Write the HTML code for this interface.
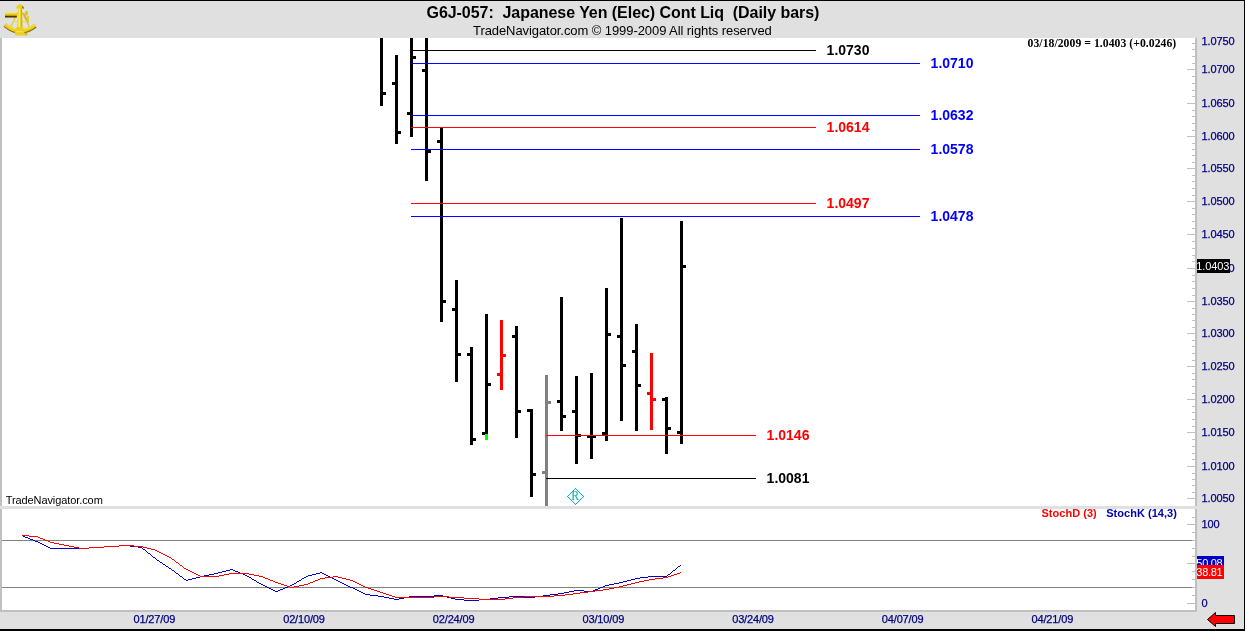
<!DOCTYPE html>
<html><head><meta charset="utf-8"><title>G6J-057 Japanese Yen</title>
<style>
html,body{margin:0;padding:0;background:#fff;}
body{width:1245px;height:631px;overflow:hidden;position:relative;font-family:"Liberation Sans",sans-serif;}
#c{position:absolute;left:0;top:0;width:1245px;height:631px;overflow:hidden;background:#fff;}
#c div,#c span,#c svg{position:absolute;}
.t{white-space:nowrap;line-height:1;}
.ax{color:#000080;font-size:11px;left:1201.5px;letter-spacing:-0.12px;-webkit-text-stroke:0.25px #000080;}
.dt{color:#000080;font-size:11px;top:613.5px;letter-spacing:-0.15px;-webkit-text-stroke:0.25px #000080;}
.lb{font-size:14px;font-weight:bold;}
</style></head><body><div id="c">

<div style="left:0px;top:0px;width:1245px;height:1px;background:#000;"></div>
<div style="left:0px;top:1px;width:1244px;height:37px;background:#e0e0e0;"></div>
<div style="left:0px;top:38px;width:2px;height:574px;background:#c0c0c0;"></div>
<div style="left:1197px;top:38px;width:47px;height:591px;background:#e0e0e0;"></div>
<div style="left:1195px;top:38px;width:2px;height:574px;background:#c0c0c0;"></div>
<div style="left:0px;top:506px;width:1197px;height:3px;background:#e0e0e0;"></div>
<div style="left:0px;top:610px;width:1197px;height:2px;background:#c0c0c0;"></div>
<div style="left:0px;top:612px;width:1244px;height:17px;background:#e0e0e0;"></div>
<div style="left:0px;top:629px;width:1245px;height:2px;background:#000;"></div>
<div style="left:1244px;top:0px;width:1px;height:631px;background:#000;"></div>
<div style="left:1192px;top:43px;width:3px;height:1px;background:#c0c0c0;"></div>
<div style="left:1192px;top:49px;width:3px;height:1px;background:#c0c0c0;"></div>
<div style="left:1192px;top:56px;width:3px;height:1px;background:#c0c0c0;"></div>
<div style="left:1192px;top:63px;width:3px;height:1px;background:#c0c0c0;"></div>
<div style="left:1187px;top:69px;width:8px;height:1px;background:#c0c0c0;"></div>
<div style="left:1192px;top:76px;width:3px;height:1px;background:#c0c0c0;"></div>
<div style="left:1192px;top:83px;width:3px;height:1px;background:#c0c0c0;"></div>
<div style="left:1192px;top:90px;width:3px;height:1px;background:#c0c0c0;"></div>
<div style="left:1192px;top:96px;width:3px;height:1px;background:#c0c0c0;"></div>
<div style="left:1187px;top:103px;width:8px;height:1px;background:#c0c0c0;"></div>
<div style="left:1192px;top:110px;width:3px;height:1px;background:#c0c0c0;"></div>
<div style="left:1192px;top:116px;width:3px;height:1px;background:#c0c0c0;"></div>
<div style="left:1192px;top:123px;width:3px;height:1px;background:#c0c0c0;"></div>
<div style="left:1192px;top:130px;width:3px;height:1px;background:#c0c0c0;"></div>
<div style="left:1187px;top:136px;width:8px;height:1px;background:#c0c0c0;"></div>
<div style="left:1192px;top:143px;width:3px;height:1px;background:#c0c0c0;"></div>
<div style="left:1192px;top:149px;width:3px;height:1px;background:#c0c0c0;"></div>
<div style="left:1192px;top:155px;width:3px;height:1px;background:#c0c0c0;"></div>
<div style="left:1192px;top:162px;width:3px;height:1px;background:#c0c0c0;"></div>
<div style="left:1187px;top:168px;width:8px;height:1px;background:#c0c0c0;"></div>
<div style="left:1192px;top:175px;width:3px;height:1px;background:#c0c0c0;"></div>
<div style="left:1192px;top:181px;width:3px;height:1px;background:#c0c0c0;"></div>
<div style="left:1192px;top:188px;width:3px;height:1px;background:#c0c0c0;"></div>
<div style="left:1192px;top:195px;width:3px;height:1px;background:#c0c0c0;"></div>
<div style="left:1187px;top:201px;width:8px;height:1px;background:#c0c0c0;"></div>
<div style="left:1192px;top:208px;width:3px;height:1px;background:#c0c0c0;"></div>
<div style="left:1192px;top:214px;width:3px;height:1px;background:#c0c0c0;"></div>
<div style="left:1192px;top:221px;width:3px;height:1px;background:#c0c0c0;"></div>
<div style="left:1192px;top:228px;width:3px;height:1px;background:#c0c0c0;"></div>
<div style="left:1187px;top:234px;width:8px;height:1px;background:#c0c0c0;"></div>
<div style="left:1192px;top:241px;width:3px;height:1px;background:#c0c0c0;"></div>
<div style="left:1192px;top:248px;width:3px;height:1px;background:#c0c0c0;"></div>
<div style="left:1192px;top:255px;width:3px;height:1px;background:#c0c0c0;"></div>
<div style="left:1192px;top:261px;width:3px;height:1px;background:#c0c0c0;"></div>
<div style="left:1187px;top:268px;width:8px;height:1px;background:#c0c0c0;"></div>
<div style="left:1192px;top:275px;width:3px;height:1px;background:#c0c0c0;"></div>
<div style="left:1192px;top:281px;width:3px;height:1px;background:#c0c0c0;"></div>
<div style="left:1192px;top:288px;width:3px;height:1px;background:#c0c0c0;"></div>
<div style="left:1192px;top:295px;width:3px;height:1px;background:#c0c0c0;"></div>
<div style="left:1187px;top:301px;width:8px;height:1px;background:#c0c0c0;"></div>
<div style="left:1192px;top:308px;width:3px;height:1px;background:#c0c0c0;"></div>
<div style="left:1192px;top:314px;width:3px;height:1px;background:#c0c0c0;"></div>
<div style="left:1192px;top:320px;width:3px;height:1px;background:#c0c0c0;"></div>
<div style="left:1192px;top:327px;width:3px;height:1px;background:#c0c0c0;"></div>
<div style="left:1187px;top:333px;width:8px;height:1px;background:#c0c0c0;"></div>
<div style="left:1192px;top:340px;width:3px;height:1px;background:#c0c0c0;"></div>
<div style="left:1192px;top:346px;width:3px;height:1px;background:#c0c0c0;"></div>
<div style="left:1192px;top:353px;width:3px;height:1px;background:#c0c0c0;"></div>
<div style="left:1192px;top:360px;width:3px;height:1px;background:#c0c0c0;"></div>
<div style="left:1187px;top:366px;width:8px;height:1px;background:#c0c0c0;"></div>
<div style="left:1192px;top:373px;width:3px;height:1px;background:#c0c0c0;"></div>
<div style="left:1192px;top:379px;width:3px;height:1px;background:#c0c0c0;"></div>
<div style="left:1192px;top:386px;width:3px;height:1px;background:#c0c0c0;"></div>
<div style="left:1192px;top:393px;width:3px;height:1px;background:#c0c0c0;"></div>
<div style="left:1187px;top:399px;width:8px;height:1px;background:#c0c0c0;"></div>
<div style="left:1192px;top:406px;width:3px;height:1px;background:#c0c0c0;"></div>
<div style="left:1192px;top:412px;width:3px;height:1px;background:#c0c0c0;"></div>
<div style="left:1192px;top:419px;width:3px;height:1px;background:#c0c0c0;"></div>
<div style="left:1192px;top:426px;width:3px;height:1px;background:#c0c0c0;"></div>
<div style="left:1187px;top:432px;width:8px;height:1px;background:#c0c0c0;"></div>
<div style="left:1192px;top:439px;width:3px;height:1px;background:#c0c0c0;"></div>
<div style="left:1192px;top:446px;width:3px;height:1px;background:#c0c0c0;"></div>
<div style="left:1192px;top:453px;width:3px;height:1px;background:#c0c0c0;"></div>
<div style="left:1192px;top:459px;width:3px;height:1px;background:#c0c0c0;"></div>
<div style="left:1187px;top:466px;width:8px;height:1px;background:#c0c0c0;"></div>
<div style="left:1192px;top:473px;width:3px;height:1px;background:#c0c0c0;"></div>
<div style="left:1192px;top:479px;width:3px;height:1px;background:#c0c0c0;"></div>
<div style="left:1192px;top:485px;width:3px;height:1px;background:#c0c0c0;"></div>
<div style="left:1192px;top:492px;width:3px;height:1px;background:#c0c0c0;"></div>
<div style="left:1187px;top:498px;width:8px;height:1px;background:#c0c0c0;"></div>
<span class="t ax" style="top:36px">1.0750</span>
<span class="t ax" style="top:64px">1.0700</span>
<span class="t ax" style="top:98px">1.0650</span>
<span class="t ax" style="top:131px">1.0600</span>
<span class="t ax" style="top:163px">1.0550</span>
<span class="t ax" style="top:196px">1.0500</span>
<span class="t ax" style="top:229px">1.0450</span>
<span class="t ax" style="top:263px">1.0400</span>
<span class="t ax" style="top:296px">1.0350</span>
<span class="t ax" style="top:328px">1.0300</span>
<span class="t ax" style="top:361px">1.0250</span>
<span class="t ax" style="top:394px">1.0200</span>
<span class="t ax" style="top:427px">1.0150</span>
<span class="t ax" style="top:461px">1.0100</span>
<span class="t ax" style="top:493px">1.0050</span>
<div style="left:1187px;top:603px;width:8px;height:1px;background:#c0c0c0;"></div>
<div style="left:1192px;top:595px;width:3px;height:1px;background:#c0c0c0;"></div>
<div style="left:1192px;top:587px;width:3px;height:1px;background:#c0c0c0;"></div>
<div style="left:1192px;top:579px;width:3px;height:1px;background:#c0c0c0;"></div>
<div style="left:1192px;top:571px;width:3px;height:1px;background:#c0c0c0;"></div>
<div style="left:1187px;top:563px;width:8px;height:1px;background:#c0c0c0;"></div>
<div style="left:1192px;top:556px;width:3px;height:1px;background:#c0c0c0;"></div>
<div style="left:1192px;top:548px;width:3px;height:1px;background:#c0c0c0;"></div>
<div style="left:1192px;top:540px;width:3px;height:1px;background:#c0c0c0;"></div>
<div style="left:1192px;top:532px;width:3px;height:1px;background:#c0c0c0;"></div>
<div style="left:1187px;top:524px;width:8px;height:1px;background:#c0c0c0;"></div>
<div style="left:1192px;top:517px;width:3px;height:1px;background:#c0c0c0;"></div>
<div style="left:2px;top:540px;width:1190px;height:1px;background:#808080;"></div>
<div style="left:2px;top:587px;width:1190px;height:1px;background:#808080;"></div>
<span class="t ax" style="top:519px">100</span>
<span class="t ax" style="top:598px">0</span>
<div style="left:380px;top:38px;width:3px;height:68px;background:#000;"></div>
<div style="left:383px;top:92px;width:3px;height:3px;background:#000;"></div>
<div style="left:395px;top:55px;width:3px;height:89px;background:#000;"></div>
<div style="left:392px;top:82px;width:3px;height:3px;background:#000;"></div>
<div style="left:398px;top:131px;width:3px;height:3px;background:#000;"></div>
<div style="left:410px;top:38px;width:3px;height:99px;background:#000;"></div>
<div style="left:407px;top:112px;width:3px;height:3px;background:#000;"></div>
<div style="left:413px;top:56px;width:3px;height:3px;background:#000;"></div>
<div style="left:425px;top:38px;width:3px;height:143px;background:#000;"></div>
<div style="left:422px;top:69px;width:3px;height:3px;background:#000;"></div>
<div style="left:428px;top:150px;width:3px;height:3px;background:#000;"></div>
<div style="left:440px;top:127px;width:3px;height:195px;background:#000;"></div>
<div style="left:437px;top:140px;width:3px;height:3px;background:#000;"></div>
<div style="left:443px;top:300px;width:3px;height:3px;background:#000;"></div>
<div style="left:455px;top:280px;width:3px;height:102px;background:#000;"></div>
<div style="left:452px;top:308px;width:3px;height:3px;background:#000;"></div>
<div style="left:458px;top:353px;width:3px;height:3px;background:#000;"></div>
<div style="left:470px;top:347px;width:3px;height:98px;background:#000;"></div>
<div style="left:467px;top:353px;width:3px;height:3px;background:#000;"></div>
<div style="left:473px;top:438px;width:3px;height:3px;background:#000;"></div>
<div style="left:485px;top:314px;width:3px;height:120px;background:#000;"></div>
<div style="left:482px;top:432px;width:3px;height:3px;background:#000;"></div>
<div style="left:488px;top:383px;width:3px;height:3px;background:#000;"></div>
<div style="left:500px;top:320px;width:3px;height:70px;background:#f00;"></div>
<div style="left:497px;top:373px;width:3px;height:3px;background:#f00;"></div>
<div style="left:503px;top:354px;width:3px;height:3px;background:#f00;"></div>
<div style="left:515px;top:326px;width:3px;height:112px;background:#000;"></div>
<div style="left:512px;top:335px;width:3px;height:3px;background:#000;"></div>
<div style="left:518px;top:410px;width:3px;height:3px;background:#000;"></div>
<div style="left:530px;top:409px;width:3px;height:88px;background:#000;"></div>
<div style="left:527px;top:409px;width:3px;height:3px;background:#000;"></div>
<div style="left:533px;top:473px;width:3px;height:3px;background:#000;"></div>
<div style="left:545px;top:375px;width:3px;height:131px;background:#808080;"></div>
<div style="left:542px;top:471px;width:3px;height:3px;background:#808080;"></div>
<div style="left:548px;top:401px;width:3px;height:3px;background:#808080;"></div>
<div style="left:560px;top:297px;width:3px;height:134px;background:#000;"></div>
<div style="left:557px;top:400px;width:3px;height:3px;background:#000;"></div>
<div style="left:563px;top:415px;width:3px;height:3px;background:#000;"></div>
<div style="left:575px;top:376px;width:3px;height:88px;background:#000;"></div>
<div style="left:572px;top:410px;width:3px;height:3px;background:#000;"></div>
<div style="left:578px;top:434px;width:3px;height:3px;background:#000;"></div>
<div style="left:590px;top:373px;width:3px;height:86px;background:#000;"></div>
<div style="left:587px;top:435px;width:3px;height:3px;background:#000;"></div>
<div style="left:593px;top:435px;width:3px;height:3px;background:#000;"></div>
<div style="left:605px;top:288px;width:3px;height:153px;background:#000;"></div>
<div style="left:602px;top:432px;width:3px;height:3px;background:#000;"></div>
<div style="left:608px;top:333px;width:3px;height:3px;background:#000;"></div>
<div style="left:620px;top:218px;width:3px;height:203px;background:#000;"></div>
<div style="left:617px;top:335px;width:3px;height:3px;background:#000;"></div>
<div style="left:623px;top:364px;width:3px;height:3px;background:#000;"></div>
<div style="left:635px;top:324px;width:3px;height:107px;background:#000;"></div>
<div style="left:632px;top:350px;width:3px;height:3px;background:#000;"></div>
<div style="left:638px;top:384px;width:3px;height:3px;background:#000;"></div>
<div style="left:650px;top:353px;width:3px;height:77px;background:#f00;"></div>
<div style="left:647px;top:392px;width:3px;height:3px;background:#f00;"></div>
<div style="left:653px;top:398px;width:3px;height:3px;background:#f00;"></div>
<div style="left:665px;top:397px;width:3px;height:57px;background:#000;"></div>
<div style="left:662px;top:398px;width:3px;height:3px;background:#000;"></div>
<div style="left:668px;top:427px;width:3px;height:3px;background:#000;"></div>
<div style="left:680px;top:221px;width:3px;height:223px;background:#000;"></div>
<div style="left:677px;top:431px;width:3px;height:3px;background:#000;"></div>
<div style="left:683px;top:265px;width:3px;height:3px;background:#000;"></div>
<div style="left:485px;top:434px;width:3px;height:6px;background:#0f0;"></div>
<div style="left:411px;top:50px;width:405px;height:1px;background:#000;"></div>
<span class="t lb" style="left:826.6px;top:42.6px;color:#000">1.0730</span>
<div style="left:411px;top:63px;width:509px;height:1px;background:#00f;"></div>
<span class="t lb" style="left:930.6px;top:55.6px;color:#00f">1.0710</span>
<div style="left:411px;top:115px;width:509px;height:1px;background:#00f;"></div>
<span class="t lb" style="left:930.6px;top:107.6px;color:#00f">1.0632</span>
<div style="left:411px;top:127px;width:405px;height:1px;background:#f00;"></div>
<span class="t lb" style="left:826.6px;top:119.6px;color:#f00">1.0614</span>
<div style="left:411px;top:149px;width:509px;height:1px;background:#00f;"></div>
<span class="t lb" style="left:930.6px;top:141.6px;color:#00f">1.0578</span>
<div style="left:411px;top:203px;width:405px;height:1px;background:#f00;"></div>
<span class="t lb" style="left:826.6px;top:195.6px;color:#f00">1.0497</span>
<div style="left:411px;top:216px;width:509px;height:1px;background:#00f;"></div>
<span class="t lb" style="left:930.6px;top:208.6px;color:#00f">1.0478</span>
<div style="left:546px;top:435px;width:210px;height:1px;background:#f00;"></div>
<span class="t lb" style="left:766.6px;top:427.6px;color:#f00">1.0146</span>
<div style="left:546px;top:478px;width:210px;height:1px;background:#000;"></div>
<span class="t lb" style="left:766.6px;top:470.6px;color:#000">1.0081</span>
<div style="left:1197px;top:259px;width:33px;height:14px;background:#000"></div>
<span class="t" style="left:1196.3px;top:260.6px;font-size:11px;color:#fff;letter-spacing:-0.1px">1.0403</span>
<div style="left:1197px;top:556px;width:27px;height:9px;background:#0000c8;overflow:hidden"><span class="t" style="left:-0.7px;top:1.8px;font-size:11px;color:#fff;letter-spacing:-0.3px">50.08</span></div>
<div style="left:1197px;top:565px;width:27px;height:14px;background:#f00;overflow:hidden"><span class="t" style="left:-0.7px;top:2px;font-size:11px;color:#fff;letter-spacing:-0.3px">38.81</span></div>
<svg style="left:0;top:0" width="1245" height="631" viewBox="0 0 1245 631" shape-rendering="crispEdges"><path d="M22 535h1v1h-1zM23 536h2v1h-2zM25 537h3v1h-3zM28 538h2v1h-2zM30 539h3v1h-3zM33 540h2v1h-2zM35 541h3v1h-3zM38 542h2v1h-2zM40 543h2v1h-2zM42 544h2v1h-2zM44 545h2v1h-2zM119 545h11v1h-11zM46 546h2v1h-2zM104 546h15v1h-15zM130 546h8v1h-8zM48 547h2v1h-2zM89 547h15v1h-15zM138 547h4v1h-4zM50 548h39v1h-39zM142 548h1v1h-1zM143 549h2v1h-2zM145 550h1v1h-1zM146 551h1v1h-1zM147 552h1v1h-1zM148 553h2v1h-2zM150 554h1v1h-1zM151 555h1v1h-1zM152 556h1v1h-1zM153 557h2v1h-2zM155 558h1v1h-1zM156 559h1v1h-1zM157 560h2v1h-2zM159 561h1v1h-1zM160 562h2v1h-2zM162 563h1v1h-1zM163 564h2v1h-2zM165 565h1v1h-1zM680 565h1v1h-1zM166 566h2v1h-2zM678 566h2v1h-2zM168 567h1v1h-1zM677 567h1v1h-1zM169 568h2v1h-2zM676 568h1v1h-1zM171 569h1v1h-1zM230 569h3v1h-3zM675 569h1v1h-1zM172 570h2v1h-2zM226 570h4v1h-4zM233 570h2v1h-2zM673 570h2v1h-2zM174 571h1v1h-1zM222 571h4v1h-4zM235 571h3v1h-3zM672 571h1v1h-1zM175 572h1v1h-1zM218 572h4v1h-4zM238 572h2v1h-2zM320 572h2v1h-2zM671 572h1v1h-1zM176 573h2v1h-2zM214 573h4v1h-4zM240 573h3v1h-3zM316 573h4v1h-4zM322 573h2v1h-2zM670 573h1v1h-1zM178 574h1v1h-1zM209 574h5v1h-5zM243 574h2v1h-2zM312 574h4v1h-4zM324 574h2v1h-2zM668 574h2v1h-2zM179 575h1v1h-1zM204 575h5v1h-5zM245 575h2v1h-2zM308 575h4v1h-4zM326 575h2v1h-2zM667 575h1v1h-1zM180 576h2v1h-2zM200 576h4v1h-4zM247 576h2v1h-2zM306 576h2v1h-2zM328 576h2v1h-2zM648 576h19v1h-19zM182 577h1v1h-1zM196 577h4v1h-4zM249 577h2v1h-2zM304 577h2v1h-2zM330 577h2v1h-2zM640 577h8v1h-8zM183 578h1v1h-1zM192 578h4v1h-4zM251 578h1v1h-1zM302 578h2v1h-2zM332 578h2v1h-2zM635 578h5v1h-5zM184 579h2v1h-2zM188 579h4v1h-4zM252 579h2v1h-2zM301 579h1v1h-1zM334 579h2v1h-2zM631 579h4v1h-4zM186 580h2v1h-2zM254 580h2v1h-2zM299 580h2v1h-2zM336 580h2v1h-2zM627 580h4v1h-4zM256 581h1v1h-1zM297 581h2v1h-2zM338 581h2v1h-2zM623 581h4v1h-4zM257 582h2v1h-2zM296 582h1v1h-1zM340 582h2v1h-2zM619 582h4v1h-4zM259 583h2v1h-2zM294 583h2v1h-2zM342 583h2v1h-2zM614 583h5v1h-5zM261 584h2v1h-2zM292 584h2v1h-2zM344 584h2v1h-2zM609 584h5v1h-5zM263 585h2v1h-2zM290 585h2v1h-2zM346 585h2v1h-2zM605 585h4v1h-4zM265 586h2v1h-2zM288 586h2v1h-2zM348 586h2v1h-2zM603 586h2v1h-2zM267 587h2v1h-2zM285 587h3v1h-3zM350 587h3v1h-3zM600 587h3v1h-3zM269 588h2v1h-2zM283 588h2v1h-2zM353 588h2v1h-2zM598 588h2v1h-2zM271 589h2v1h-2zM280 589h3v1h-3zM355 589h2v1h-2zM595 589h3v1h-3zM273 590h2v1h-2zM278 590h2v1h-2zM357 590h2v1h-2zM574 590h10v1h-10zM593 590h2v1h-2zM275 591h3v1h-3zM359 591h2v1h-2zM569 591h5v1h-5zM584 591h9v1h-9zM361 592h2v1h-2zM564 592h5v1h-5zM363 593h2v1h-2zM558 593h6v1h-6zM365 594h5v1h-5zM550 594h8v1h-8zM370 595h8v1h-8zM434 595h9v1h-9zM543 595h7v1h-7zM378 596h6v1h-6zM409 596h25v1h-25zM443 596h4v1h-4zM509 596h15v1h-15zM535 596h8v1h-8zM384 597h5v1h-5zM404 597h5v1h-5zM447 597h4v1h-4zM498 597h11v1h-11zM524 597h11v1h-11zM389 598h5v1h-5zM399 598h5v1h-5zM451 598h4v1h-4zM490 598h8v1h-8zM394 599h5v1h-5zM455 599h9v1h-9zM479 599h11v1h-11zM464 600h15v1h-15z" fill="#0000c8"/><path d="M22 535h7v1h-7zM29 536h9v1h-9zM38 537h2v1h-2zM40 538h3v1h-3zM43 539h2v1h-2zM45 540h3v1h-3zM48 541h2v1h-2zM50 542h4v1h-4zM54 543h5v1h-5zM59 544h5v1h-5zM64 545h5v1h-5zM119 545h15v1h-15zM69 546h5v1h-5zM104 546h15v1h-15zM134 546h9v1h-9zM74 547h5v1h-5zM89 547h15v1h-15zM143 547h4v1h-4zM79 548h10v1h-10zM147 548h4v1h-4zM151 549h4v1h-4zM155 550h2v1h-2zM157 551h2v1h-2zM159 552h2v1h-2zM161 553h2v1h-2zM163 554h2v1h-2zM165 555h2v1h-2zM167 556h2v1h-2zM169 557h2v1h-2zM171 558h1v1h-1zM172 559h2v1h-2zM174 560h1v1h-1zM175 561h1v1h-1zM176 562h2v1h-2zM178 563h1v1h-1zM179 564h1v1h-1zM180 565h2v1h-2zM182 566h1v1h-1zM183 567h1v1h-1zM184 568h2v1h-2zM186 569h2v1h-2zM188 570h2v1h-2zM190 571h2v1h-2zM192 572h2v1h-2zM680 572h1v1h-1zM194 573h2v1h-2zM229 573h20v1h-20zM677 573h3v1h-3zM196 574h2v1h-2zM224 574h5v1h-5zM249 574h5v1h-5zM674 574h3v1h-3zM198 575h2v1h-2zM219 575h5v1h-5zM254 575h5v1h-5zM671 575h3v1h-3zM200 576h19v1h-19zM259 576h4v1h-4zM333 576h5v1h-5zM668 576h3v1h-3zM263 577h2v1h-2zM325 577h8v1h-8zM338 577h4v1h-4zM663 577h5v1h-5zM265 578h3v1h-3zM320 578h5v1h-5zM342 578h4v1h-4zM655 578h8v1h-8zM268 579h2v1h-2zM318 579h2v1h-2zM346 579h4v1h-4zM649 579h6v1h-6zM270 580h3v1h-3zM315 580h3v1h-3zM350 580h3v1h-3zM644 580h5v1h-5zM273 581h2v1h-2zM313 581h2v1h-2zM353 581h2v1h-2zM639 581h5v1h-5zM275 582h3v1h-3zM310 582h3v1h-3zM355 582h2v1h-2zM635 582h4v1h-4zM278 583h3v1h-3zM308 583h2v1h-2zM357 583h2v1h-2zM631 583h4v1h-4zM281 584h3v1h-3zM304 584h4v1h-4zM359 584h2v1h-2zM627 584h4v1h-4zM284 585h3v1h-3zM299 585h5v1h-5zM361 585h2v1h-2zM623 585h4v1h-4zM287 586h3v1h-3zM294 586h5v1h-5zM363 586h2v1h-2zM619 586h4v1h-4zM290 587h4v1h-4zM365 587h3v1h-3zM614 587h5v1h-5zM368 588h3v1h-3zM609 588h5v1h-5zM371 589h3v1h-3zM603 589h6v1h-6zM374 590h3v1h-3zM595 590h8v1h-8zM377 591h3v1h-3zM588 591h7v1h-7zM380 592h3v1h-3zM580 592h8v1h-8zM383 593h3v1h-3zM573 593h7v1h-7zM386 594h3v1h-3zM565 594h8v1h-8zM389 595h3v1h-3zM554 595h11v1h-11zM392 596h3v1h-3zM434 596h15v1h-15zM524 596h30v1h-30zM395 597h39v1h-39zM449 597h15v1h-15zM513 597h11v1h-11zM464 598h15v1h-15zM505 598h8v1h-8zM479 599h26v1h-26z" fill="#f00"/></svg>
<span class="t" style="left:426.5px;top:4.6px;font-size:16px;font-weight:bold;color:#000;white-space:pre;letter-spacing:-0.05px">G6J-057:  Japanese Yen (Elec) Cont Liq  (Daily bars)</span>
<span class="t" style="left:473px;top:23.6px;font-size:13px;color:#000;letter-spacing:-0.075px">TradeNavigator.com © 1999-2009 All rights reserved</span>
<span class="t" style="left:1027.6px;top:37.5px;font-size:11.7px;letter-spacing:0.045px;font-weight:bold;color:#000;font-family:'Liberation Serif',serif">03/18/2009 = 1.0403 (+0.0246)</span>
<span class="t" style="left:5.7px;top:494.5px;font-size:11px;color:#000;letter-spacing:-0.09px">TradeNavigator.com</span>
<span class="t" style="left:1041.5px;top:508.2px;letter-spacing:0.03px;font-size:11px;font-weight:bold;color:#f00">StochD (3)</span>
<span class="t" style="left:1106.2px;top:508.2px;letter-spacing:0.03px;font-size:11px;font-weight:bold;color:#0000b4">StochK (14,3)</span>
<span class="t dt" style="left:133.5px">01/27/09</span>
<span class="t dt" style="left:283.2px">02/10/09</span>
<span class="t dt" style="left:432.8px">02/24/09</span>
<span class="t dt" style="left:582.5px">03/10/09</span>
<span class="t dt" style="left:732.2px">03/24/09</span>
<span class="t dt" style="left:881.8px">04/07/09</span>
<span class="t dt" style="left:1031.5px">04/21/09</span>
<svg style="left:560px;top:482px" width="32" height="30" viewBox="560 482 32 30"><path d="M567 496h1v1h-1zM568 495h1v1h-1zM568 497h1v1h-1zM569 494h1v1h-1zM569 498h1v1h-1zM570 493h1v1h-1zM570 499h1v1h-1zM571 492h1v1h-1zM571 500h1v1h-1zM572 491h1v1h-1zM572 501h1v1h-1zM573 490h1v1h-1zM573 502h1v1h-1zM574 489h1v1h-1zM574 503h1v1h-1zM575 488h1v1h-1zM575 504h1v1h-1zM576 489h1v1h-1zM576 503h1v1h-1zM577 490h1v1h-1zM577 502h1v1h-1zM578 491h1v1h-1zM578 501h1v1h-1zM579 492h1v1h-1zM579 500h1v1h-1zM580 493h1v1h-1zM580 499h1v1h-1zM581 494h1v1h-1zM581 498h1v1h-1zM582 495h1v1h-1zM582 497h1v1h-1zM583 496h1v1h-1z" fill="#00b4bc" shape-rendering="crispEdges"/><text transform="translate(575.2,499.9) rotate(0.3) scale(0.85,1)" font-family="Liberation Serif, serif" font-size="13.8" fill="#00a8b0" text-anchor="middle">R</text></svg>
<svg style="left:1205px;top:610px" width="34" height="20" viewBox="0 0 34 20"><polygon points="2.5,9.5 10.5,2.5 10.5,5.5 29.5,5.5 29.5,13.5 10.5,13.5 10.5,16.5" fill="#f00" stroke="#000" stroke-width="1"/></svg>
<svg style="left:0;top:0" width="42" height="40" viewBox="0 0 42 40">
<g fill="none" stroke="#e0c428" stroke-width="1.2">
<path d="M17.8 12.5 L10.8 26.5"/><path d="M22 12.5 L29.3 26.5"/>
<path d="M13 21.6 L27.5 21.6" stroke="#ead868"/>
<path d="M23.5 13 L26 18 L28.6 22.5" stroke="#d4b418" stroke-width="1.5"/>
</g>
<path d="M25.3 11 h2.4 v4.6 h-2.4z" fill="#dcc020"/>
<path d="M27.2 16 h1.8 v5.6 h-1.8z" fill="#e4cc30"/>
<path d="M4.9 25.2 Q20 38 35.3 25.8" fill="none" stroke="#8a7008" stroke-width="4.3"/>
<path d="M5.2 24.6 Q20 36.8 35 25.1" fill="none" stroke="#ecd020" stroke-width="3.4"/>
<path d="M5.6 23.8 Q20 35.4 34.6 24.3" fill="none" stroke="#f6e858" stroke-width="1"/>
<rect x="5" y="12.2" width="11.8" height="5.3" fill="#e8cc18"/>
<rect x="5" y="15.9" width="11.8" height="1.6" fill="#4a3800"/>
<rect x="5" y="14.9" width="11.8" height="1" fill="#b89808"/>
<rect x="5" y="12.2" width="11.8" height="1.1" fill="#f4ee90"/>
<path d="M18 8 L21.9 8 L22.3 28 L17.2 28 Z" fill="#ecd020"/>
<path d="M18.7 8 L20 8 L20 28 L18.3 28 Z" fill="#f8ec70"/>
<path d="M21.3 8 L21.9 8 L22.3 28 L21.5 28 Z" fill="#c0a010"/>
<path d="M16.2 8.4 L16.5 6.4 Q17.6 4.6 19.7 4 Q22 4.6 23.2 6.2 L23.8 8.4 Z" fill="#ecd020"/>
<path d="M22 5.8 L23.2 6.4 L24 8.4 L22.6 8.4 Z" fill="#705800"/>
<path d="M16.8 27 L22.9 27 L24.4 30 L24.4 34.5 Q24.4 35.6 23 35.6 L16.4 35.6 Q15 35.6 15 34.5 L15 30 Z" fill="#ecd020"/>
<path d="M16 31.2 h7 v0.9 h-7z" fill="#f4e468"/>
<rect x="24.4" y="33" width="3.4" height="2.5" fill="#e0c010"/>
<rect x="27.2" y="32.6" width="0.9" height="3.2" fill="#f0dc40"/>
</svg>

</div></body></html>
